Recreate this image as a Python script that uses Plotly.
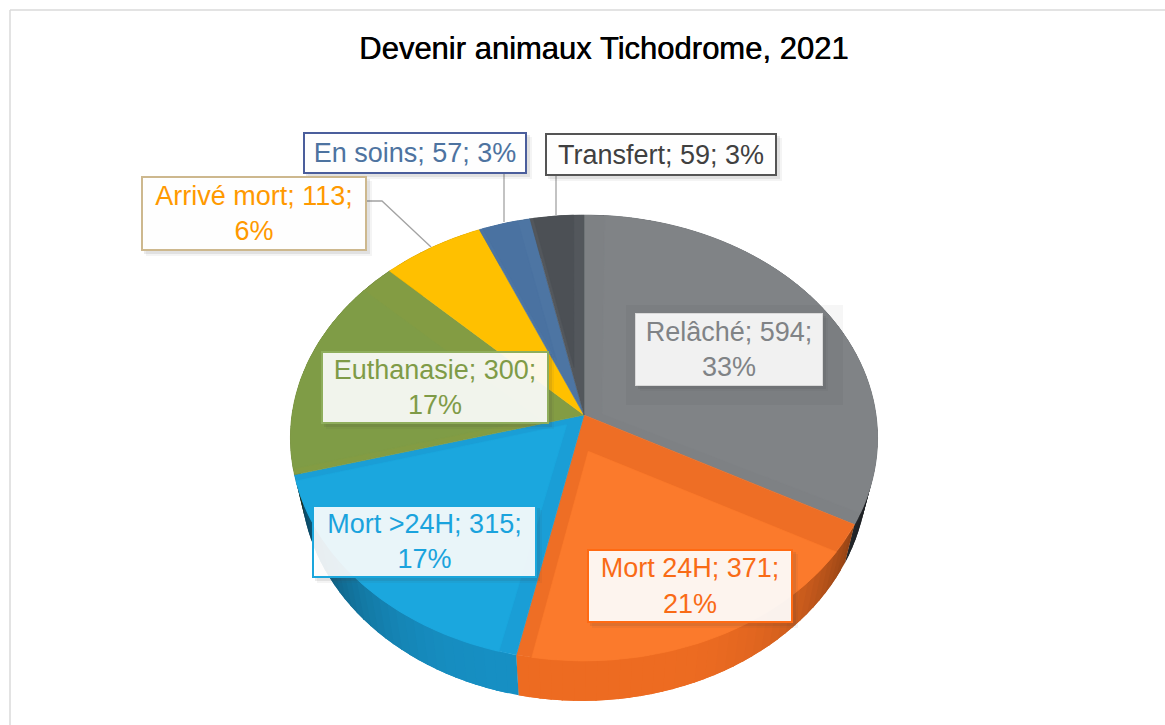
import numpy as np
import plotly.graph_objects as go

# ---- data ----
categories = ["Relâché", "Mort 24H", "Mort >24H", "Euthanasie", "Arrivé mort", "En soins", "Transfert"]
values = [594, 371, 315, 300, 113, 57, 59]
percents = [33, 21, 17, 17, 6, 3, 3]
one_line = [False, False, False, False, False, True, True]
title_text = "Devenir animaux Tichodrome, 2021"

# ---- style ----
face_base = ["#7E8184", "#EE6E25", "#1A9ED6", "#839C43", "#FFC000", "#4D75A3", "#53575C"]
face_light = ["#808386", "#FB7A2C", "#1BA7DE", "#7F9C46", "#FFC000", "#4A72A1", "#4C5055"]
bevel = [(18, 8), (32, 14), (14, 6), (6, 30), (0, 0), (3, 12), (3, 10)]
side_col = [(60, 64, 70), (238, 108, 34), (23, 144, 196), (80, 100, 40), (170, 130, 0), (50, 80, 110), (50, 52, 56)]
text_col = ["#808386", "#F96B16", "#1AA3DD", "#7F9B47", "#FF9900", "#4D73A0", "#404040"]
border_col = ["#D9D9D9", "#FF6A13", "#1BA6DC", "#8FAE5C", "#CDB88E", "#4B5E9C", "#555555"]
border_w = [1, 2, 2, 2, 2, 2, 2]
bg_col = ["rgba(255,255,255,0.9)", "rgba(255,255,255,0.92)", "rgba(255,255,255,0.9)",
          "rgba(255,255,255,0.9)", "rgba(255,255,255,0.95)", "rgba(255,255,255,0.95)", "rgba(255,255,255,0.97)"]
boxes = [(635, 313, 823, 386), (587, 549, 793, 623), (312, 505, 537, 578), (321, 351, 549, 424),
         (141, 176, 367, 251), (303, 132, 527, 174), (545, 133, 777, 176)]
FONT = "Liberation Sans"
CX, CY, R, KY, P = 584.0, 415.0, 292.0, 220.6, 0.103


def project(theta):
    d = 1 + P * np.cos(theta)
    return CX + R * np.sin(theta) / d, CY - KY * np.cos(theta) / d


def project_bottom(theta):
    x, y = project(theta)
    return CX + (x - CX) * 0.965, y + 40 - 2 * np.sin(theta)


total = sum(values)
edges = 2 * np.pi * np.concatenate([[0], np.cumsum(values)]) / total
fig = go.Figure()


def poly(xs, ys, color, width=0.6):
    fig.add_trace(go.Scatter(x=xs, y=ys, mode="lines", fill="toself", fillcolor=color,
                             line=dict(color=color, width=width), hoverinfo="skip", showlegend=False))


# side walls (strips overlap so that no seams show)
for i in range(len(values)):
    a0, a1 = edges[i], edges[i + 1]
    n = max(2, int((a1 - a0) / 0.035))
    steps = np.linspace(a0, a1, n + 1)
    for t0, t1 in zip(steps[:-1], steps[1:]):
        t = np.linspace(t0, min(t1 + 0.04, a1), 5)
        tx, ty = project(t)
        bx, by = project_bottom(t)
        f = 1 - 0.62 * abs(np.sin((t0 + t1) / 2)) ** 4
        c = "rgb(%d,%d,%d)" % tuple(int(v * f) for v in side_col[i])
        poly(list(tx) + list(bx[::-1]), list(ty) + list(by[::-1]), c, width=0)

# top faces
for i in range(len(values)):
    a0, a1 = edges[i], edges[i + 1]
    t = np.linspace(a0, a1, 80)
    x, y = project(t)
    poly([CX] + list(x) + [CX], [CY] + list(y) + [CY], face_base[i])
    w0, w1 = bevel[i]
    if w0 == 0 and w1 == 0:
        continue
    ax, ay = project(np.array(a0))
    bx, by = project(np.array(a1))
    ua = np.array([ax - CX, ay - CY]); ua /= np.linalg.norm(ua)
    ub = np.array([bx - CX, by - CY]); ub /= np.linalg.norm(ub)
    # inward normals (clockwise on screen, y downwards)
    na = np.array([-ua[1], ua[0]])
    nb = np.array([ub[1], -ub[0]])
    apex = np.linalg.solve(np.array([na, nb]), np.array([w0, w1]))
    keep = [(px, py) for px, py in zip(x, y)
            if (px - CX) * na[0] + (py - CY) * na[1] >= w0 and (px - CX) * nb[0] + (py - CY) * nb[1] >= w1]
    if len(keep) > 1:
        ix = [CX + apex[0]] + [k[0] for k in keep] + [CX + apex[0]]
        iy = [CY + apex[1]] + [k[1] for k in keep] + [CY + apex[1]]
        poly(ix, iy, face_light[i])

# leader lines
leaders = [([367, 382, 431], [201, 201, 247]), ([504, 504], [174, 222]), ([556, 556], [176, 215])]
for lx, ly in leaders:
    fig.add_trace(go.Scatter(x=lx, y=ly, mode="lines", line=dict(color="#A3A3A3", width=1.3),
                             hoverinfo="skip", showlegend=False))

shapes = [
    dict(type="line", x0=10, x1=10, y0=10, y1=725, line=dict(color="#DADADA", width=1.5), layer="below"),
    dict(type="line", x0=10, x1=1165, y0=10, y1=10, line=dict(color="#DADADA", width=1.5), layer="below"),
    dict(type="rect", x0=626, x1=843, y0=305, y1=405, fillcolor="rgba(0,0,0,0.035)", line=dict(width=0)),
]
annotations = []
for i, cat in enumerate(categories):
    x0, y0, x1, y1 = boxes[i]
    for off, alpha in ((5, 0.06), (3, 0.10)):
        shapes.append(dict(type="rect", x0=x0 + off, x1=x1 + off, y0=y0 + off, y1=y1 + off,
                           fillcolor=f"rgba(60,60,60,{alpha})", line=dict(width=0)))
    sep = " " if one_line[i] else "<br>"
    txt = f"{cat}; {values[i]};{sep}{percents[i]}%"
    bw = border_w[i]
    annotations.append(dict(
        x=(x0 + x1) / 2, y=(y0 + y1) / 2, xref="x", yref="y", text=txt, showarrow=False,
        xanchor="center", yanchor="middle", align="center", valign="middle",
        width=x1 - x0 - 2 * bw, height=y1 - y0 - 2 * bw, borderpad=0, borderwidth=bw,
        bordercolor=border_col[i], bgcolor=bg_col[i],
        font=dict(family=FONT, size=27, color=text_col[i])))
annotations.append(dict(x=603, y=48, xref="x", yref="y", text=title_text, showarrow=False,
                        xanchor="center", yanchor="middle",
                        font=dict(family=FONT, size=31, color="#000000", shadow="0.5px 0 0 #000000")))

fig.update_layout(
    width=1165, height=725, margin=dict(l=0, r=0, t=0, b=0), paper_bgcolor="white", plot_bgcolor="white",
    xaxis=dict(range=[0, 1165], visible=False, fixedrange=True),
    yaxis=dict(range=[725, 0], visible=False, fixedrange=True),
    shapes=shapes, annotations=annotations, showlegend=False, hovermode=False)
fig.write_html("out.html", config=dict(displayModeBar=False),
               post_script="document.body.style.margin='0';document.body.style.overflow='hidden';")
